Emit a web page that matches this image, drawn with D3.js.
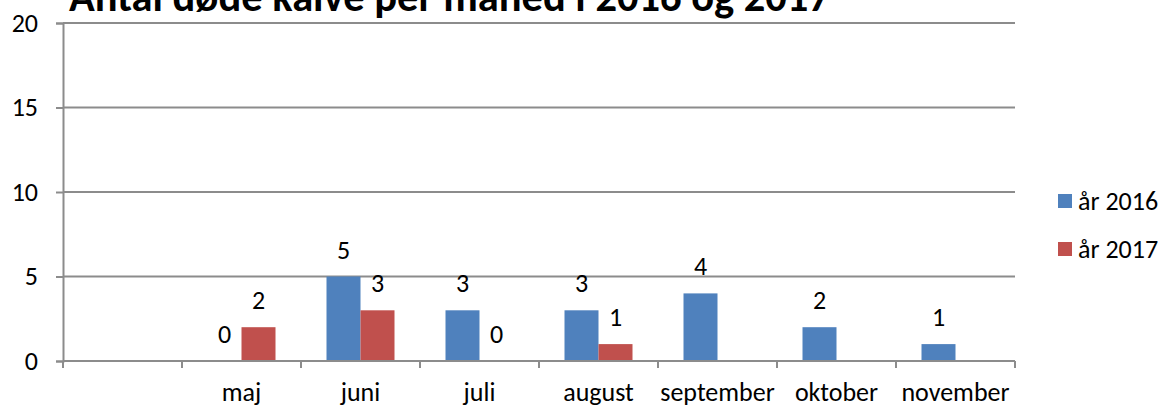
<!DOCTYPE html>
<html>
<head>
<meta charset="utf-8">
<script src="https://cdn.jsdelivr.net/npm/d3@7"></script>
<style>
  body { margin: 0; background: #fff; }
  svg text { font-family: Carlito, Calibri, Lato, sans-serif; fill: #000; }
</style>
</head>
<body>
<svg class="chart"></svg>
<script>
// values
const title = 'Antal døde kalve per måned i 2016 og 2017';
const months = ['', 'maj', 'juni', 'juli', 'august', 'september', 'oktober', 'november'];
const seriesNames = ['år 2016', 'år 2017'];
const values2016 = [null, 0, 5, 3, 3, 4, 2, 1];
const values2017 = [null, 2, 3, 0, 1, null, null, null];
const yTicks = [0, 5, 10, 15, 20];
const colors = ['#4F81BD', '#C0504D'];

const drawChart = () => {
  const svgWidth = 1164, svgHeight = 408;
  const margin = {left: 63, right: 149, top: 23, bottom: 47};
  const gridColor = '#8c8c8c';
  const fontSize = 26;

  const svg = d3.select('.chart')
    .attr('width', svgWidth)
    .attr('height', svgHeight);

  const xScale = d3.scaleBand()
    .domain(months.map((m, i) => i))
    .range([margin.left, svgWidth - margin.right])
    .paddingInner(0)
    .paddingOuter(0);

  const innerScale = d3.scaleBand()
    .domain([0, 1])
    .range([0, xScale.bandwidth()])
    .paddingOuter(0.75)
    .paddingInner(0);

  const yScale = d3.scaleLinear()
    .domain([0, 20])
    .range([svgHeight - margin.bottom, margin.top]);

  // gridlines
  svg.append('g')
    .selectAll('line')
    .data(yTicks.slice(1))
    .enter()
    .append('line')
    .attr('x1', margin.left)
    .attr('x2', svgWidth - margin.right)
    .attr('y1', (d) => yScale(d))
    .attr('y2', (d) => yScale(d))
    .attr('stroke', gridColor)
    .attr('stroke-width', 2);

  // bars + value labels
  const series = [values2016, values2017];
  series.forEach((vals, s) => {
    const rows = vals.map((v, i) => ({i: i, v: v})).filter((d) => d.v !== null);
    svg.append('g')
      .selectAll('rect')
      .data(rows)
      .enter()
      .append('rect')
      .attr('x', (d) => xScale(d.i) + innerScale(s))
      .attr('width', innerScale.bandwidth())
      .attr('y', (d) => yScale(d.v))
      .attr('height', (d) => yScale(0) - yScale(d.v))
      .attr('fill', colors[s]);

    svg.append('g')
      .selectAll('text')
      .data(rows)
      .enter()
      .append('text')
      .attr('x', (d) => xScale(d.i) + innerScale(s) + innerScale.bandwidth() / 2)
      .attr('y', (d) => yScale(d.v) - 18)
      .attr('text-anchor', 'middle')
      .attr('font-size', fontSize)
      .text((d) => d.v);
  });

  // y axis
  const yAxis = d3.axisLeft(yScale).tickValues(yTicks).tickSize(7).tickPadding(18);
  const yg = svg.append('g')
    .attr('transform', 'translate(' + margin.left + ',0)')
    .call(yAxis);
  yg.selectAll('text').attr('font-size', fontSize).attr('fill', '#000');
  yg.select('.domain').attr('stroke', gridColor).attr('stroke-width', 2);
  yg.selectAll('.tick line').attr('stroke', gridColor).attr('stroke-width', 2);

  // x axis, ticks sit on the category boundaries
  const xAxisY = yScale(0);
  const xg = svg.append('g');
  xg.append('line')
    .attr('x1', margin.left)
    .attr('x2', svgWidth - margin.right)
    .attr('y1', xAxisY)
    .attr('y2', xAxisY)
    .attr('stroke', gridColor)
    .attr('stroke-width', 2);
  xg.selectAll('.tick')
    .data(months.map((m, i) => i).concat([months.length]))
    .enter()
    .append('line')
    .attr('x1', (i) => margin.left + i * xScale.step())
    .attr('x2', (i) => margin.left + i * xScale.step())
    .attr('y1', xAxisY)
    .attr('y2', xAxisY + 7)
    .attr('stroke', gridColor)
    .attr('stroke-width', 2);
  xg.selectAll('text')
    .data(months)
    .enter()
    .append('text')
    .attr('x', (m, i) => xScale(i) + xScale.bandwidth() / 2)
    .attr('y', xAxisY + 40)
    .attr('text-anchor', 'middle')
    .attr('font-size', fontSize)
    .text((m) => m);

  // title, cut off at the top like the source
  svg.append('text')
    .attr('x', 69)
    .attr('y', 11)
    .attr('font-size', 42.5)
    .attr('font-weight', 'bold')
    .text(title);

  // legend
  const legend = svg.append('g')
    .attr('transform', 'translate(1058, 194)');
  seriesNames.forEach((name, s) => {
    legend.append('rect')
      .attr('x', 0)
      .attr('y', s * 48)
      .attr('width', 14)
      .attr('height', 14)
      .attr('fill', colors[s]);
    legend.append('text')
      .attr('x', 20)
      .attr('y', s * 48 + 16)
      .attr('font-size', fontSize)
      .text(name);
  });
};

document.addEventListener('DOMContentLoaded', drawChart, false);
</script>
</body>
</html>
